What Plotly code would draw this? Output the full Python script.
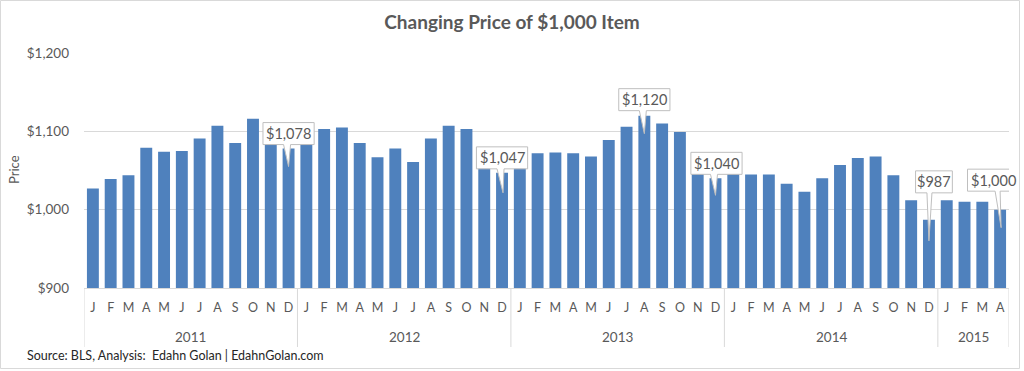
import plotly.graph_objects as go

# ---- data ----
month_letters = ["J", "F", "M", "A", "M", "J", "J", "A", "S", "O", "N", "D"]
years = ["2011", "2012", "2013", "2014", "2015"]
months_per_year = [12, 12, 12, 12, 4]
prices_2011 = [1027, 1039, 1044, 1079, 1074, 1075, 1091, 1107, 1085, 1116, 1098, 1078]
prices_2012 = [1112, 1103, 1105, 1085, 1067, 1078, 1061, 1091, 1107, 1103, 1058, 1047]
prices_2013 = [1060, 1072, 1073, 1072, 1068, 1089, 1106, 1120, 1110, 1099, 1050, 1040]
prices_2014 = [1046, 1045, 1045, 1033, 1023, 1040, 1057, 1066, 1068, 1044, 1012, 987]
prices_2015 = [1012, 1010, 1010, 1000]
callout_months = [11, 23, 35, 47, 51, 31]  # indices of labelled bars
y_ticks = [900, 1000, 1100, 1200]
y_tick_labels = ["$900", "$1,000", "$1,100", "$1,200"]

prices = prices_2011 + prices_2012 + prices_2013 + prices_2014 + prices_2015
ticktext = []
for n in months_per_year:
    ticktext += month_letters[:n]
xs = list(range(len(prices)))

# ---- layout geometry (pixels) ----
W, H = 1024, 371
ML, MR, MT, MB = 84, 15, 53, 83
PW, PH = W - ML - MR, H - MT - MB


def px_x(px):
    return (px - ML) / PW


def px_y(py):
    return (H - MB - py) / PH


GRAY_TXT = "#595959"
GRID = "#d9d9d9"
BAR = "#4f81bd"
FONT = "Lato"

fig = go.Figure()
fig.add_trace(go.Bar(x=xs, y=prices, marker=dict(color=BAR, line=dict(width=0)),
                     hoverinfo="skip"))

shapes = []
annotations = []

# year separators and year labels
start = 0
bounds = [-0.5]
for yr, n in zip(years, months_per_year):
    annotations.append(dict(x=start + (n - 1) / 2, y=px_y(337), xref="x", yref="paper",
                            text=yr, showarrow=False, xanchor="center", yanchor="middle",
                            font=dict(size=13.5, color=GRAY_TXT, family=FONT)))
    start += n
    bounds.append(start - 0.5)
for b in bounds:
    shapes.append(dict(type="line", xref="x", yref="paper", x0=b, x1=b,
                       y0=0, y1=px_y(347), line=dict(color=GRID, width=1)))

# chart border
shapes.append(dict(type="rect", xref="paper", yref="paper",
                   x0=px_x(0.5), x1=px_x(1019.5), y0=px_y(368.5), y1=px_y(0.5),
                   line=dict(color=GRID, width=1), fillcolor="rgba(0,0,0,0)", layer="below"))

# callouts: (box center dx, dy, tip x, tip y, base left, base right) in pixels, y up
callout_geom = {
    11: (0, 15, 0, -18, -5, 2),
    23: (0, 15, 1, -20, -5, 2),
    31: (0, 16, 0, -18, -5, 2),
    35: (1, 15, 0, -17, -5, 2),
    47: (5, 38, 0, -21, -2, 3),
    51: (-7, 29.5, 1, -18, -5, 0),
}
BOX_H = 22
for idx in callout_months:
    val = prices[idx]
    label = f"${val:,}"
    cx, cy, tx, ty, bl, br = callout_geom[idx]
    w = 7.2 * len(label) + 8
    l, r = cx - w / 2, cx + w / 2
    bot, top = cy - BOX_H / 2, cy + BOX_H / 2
    path = (f"M {l} {bot} L {bl} {bot} L {tx} {ty} L {br} {bot} L {r} {bot} "
            f"L {r} {top} L {l} {top} Z")
    shapes.append(dict(type="path", xref="x", yref="y", xsizemode="pixel", ysizemode="pixel",
                       xanchor=idx, yanchor=val, path=path, fillcolor="white",
                       line=dict(color="#bfbfbf", width=1), layer="above"))
    annotations.append(dict(x=idx, y=val, xref="x", yref="y", text=label, showarrow=False,
                            xshift=cx, yshift=cy, xanchor="center", yanchor="middle",
                            font=dict(size=14.5, color=GRAY_TXT, family=FONT)))

# axis title and source
annotations.append(dict(x=px_x(14), y=px_y(170), xref="paper", yref="paper", text="Price",
                        textangle=-90, showarrow=False, xanchor="center", yanchor="middle",
                        font=dict(size=13, color=GRAY_TXT, family=FONT)))
annotations.append(dict(x=px_x(25), y=px_y(355), xref="paper", yref="paper",
                        text="Source: BLS, Analysis:  Edahn Golan | EdahnGolan.com",
                        showarrow=False, xanchor="left", yanchor="middle",
                        font=dict(size=12.5, color="#262626", family=FONT)))

fig.update_layout(
    width=W, height=H,
    margin=dict(l=ML, r=MR, t=MT, b=MB, pad=0),
    paper_bgcolor="white", plot_bgcolor="white",
    showlegend=False, bargap=0.33,
    font=dict(family=FONT, color=GRAY_TXT),
    title=dict(text="<b>Changing Price of $1,000 Item</b>", x=0.5, xanchor="center",
               y=(H - 22) / H, yanchor="middle", xref="container", yref="container",
               font=dict(size=19, color=GRAY_TXT, family=FONT)),
    xaxis=dict(range=[-0.5, len(prices) - 0.5], tickmode="array", tickvals=xs,
               ticktext=ticktext, ticks="", showgrid=False, zeroline=False,
               showline=True, linecolor=GRID, linewidth=1,
               tickfont=dict(size=12.5, color=GRAY_TXT, family=FONT), ticklabelstandoff=8),
    yaxis=dict(range=[900, 1200], tickmode="array", tickvals=y_ticks,
               ticktext=y_tick_labels, showgrid=True, gridcolor=GRID, gridwidth=1,
               zeroline=False, ticks="", showline=False,
               tickfont=dict(size=13.5, color=GRAY_TXT, family=FONT), ticklabelstandoff=14),
    shapes=shapes, annotations=annotations,
)

fig.write_html("out.html", config={"displayModeBar": False},
               post_script="document.body.style.margin='0';")
